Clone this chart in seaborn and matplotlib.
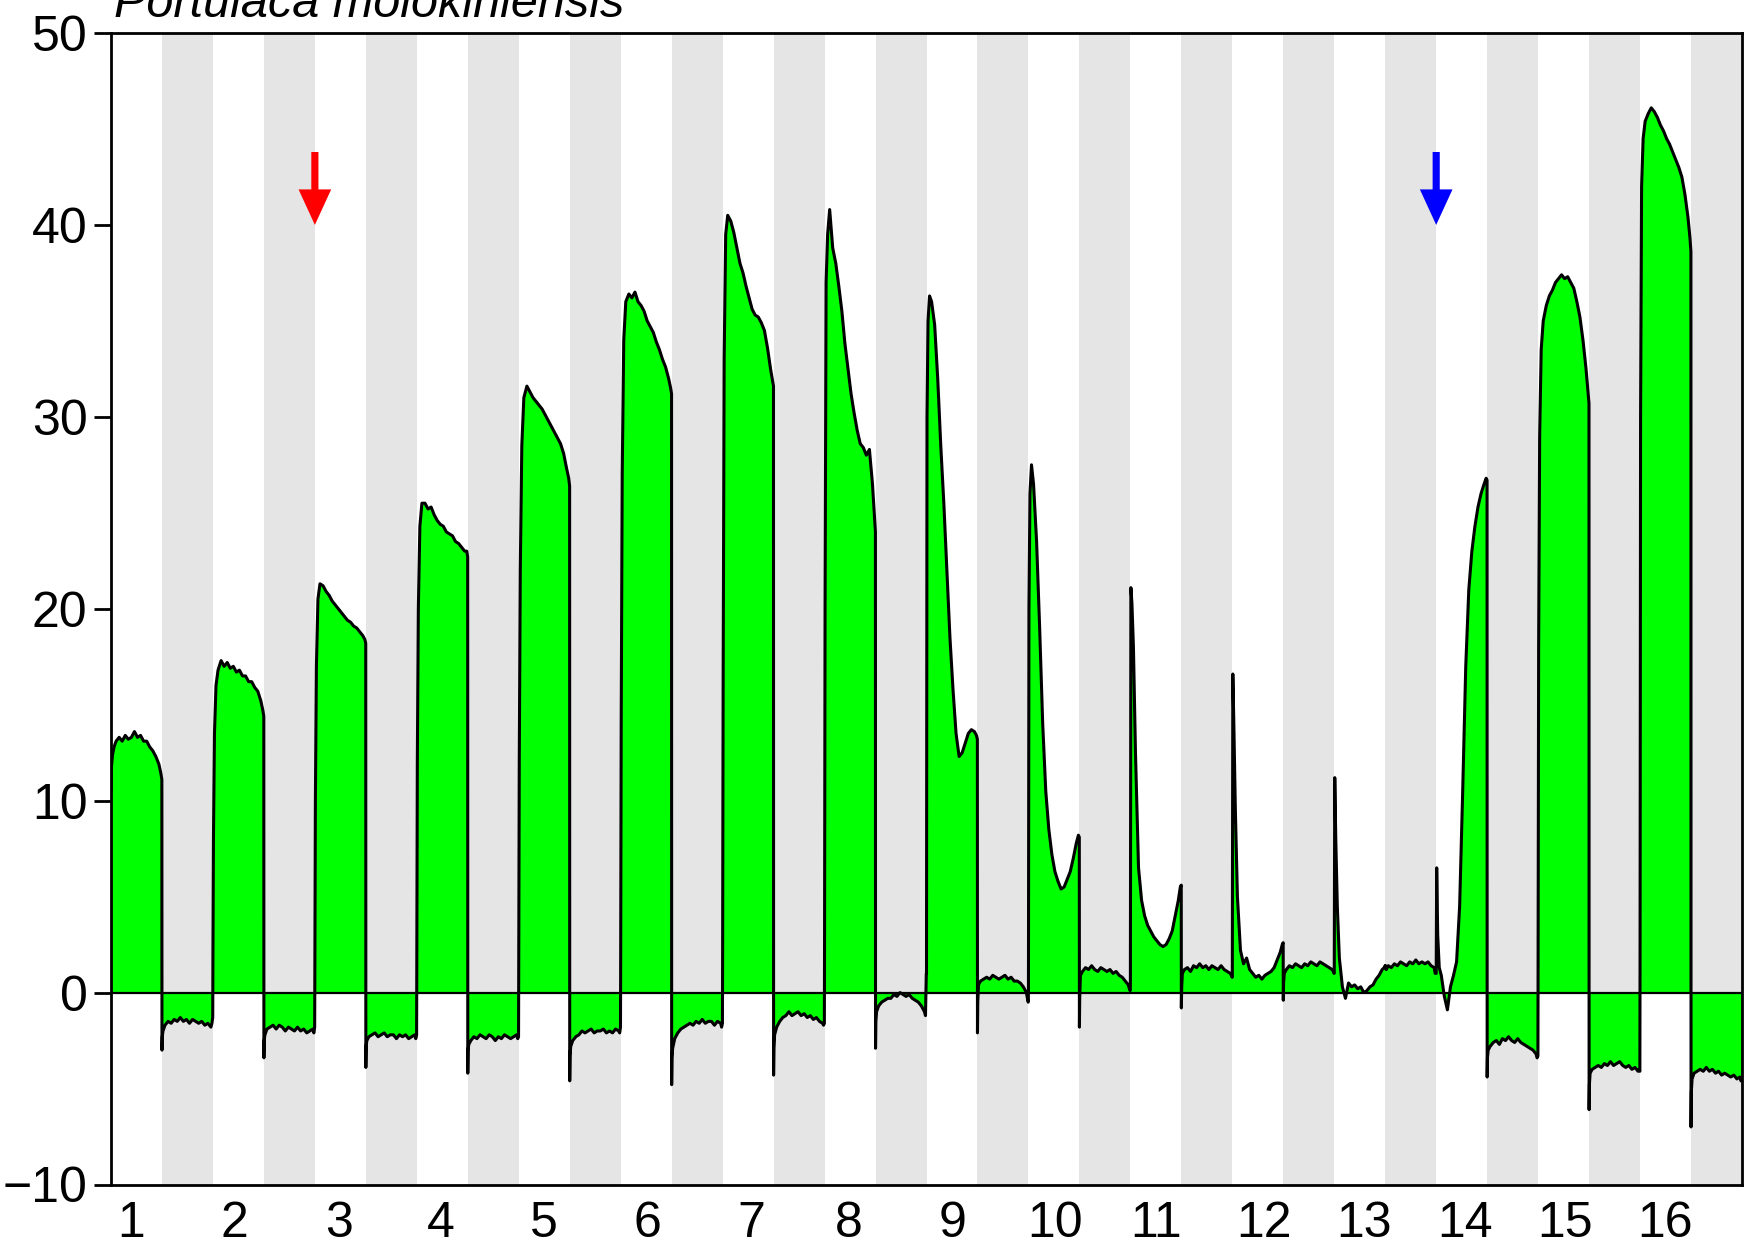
import matplotlib
matplotlib.use('Agg')
import matplotlib.pyplot as plt
import seaborn as sns
import pandas as pd
from matplotlib.patches import FancyArrow

# time inside one day (fraction of day): light 0-0.5, dark 0.5-1
t_light = [0, 0.005, 0.015, 0.03, 0.05, 0.08, 0.11, 0.14, 0.17, 0.20, 0.23,
           0.26, 0.29, 0.32, 0.35, 0.38, 0.41, 0.44, 0.47, 0.49, 0.499]
t_dark = [0.5, 0.503, 0.51, 0.53, 0.56, 0.59, 0.62, 0.65, 0.68, 0.71, 0.74,
          0.77, 0.80, 0.83, 0.86, 0.89, 0.92, 0.95, 0.98, 0.99, 0.998]

# CO2 uptake, light periods
light_1 = [10.5, 11.8, 12.4, 12.8, 13.1, 13.3, 13.1, 13.4, 13.2, 13.3, 13.6,
           13.3, 13.4, 13.1, 13.1, 12.8, 12.6, 12.3, 11.9, 11.4, 11.1]
light_2 = [2.0, 8.0, 13.5, 16.0, 16.8, 17.3, 17.0, 17.2, 16.9, 17.0, 16.7,
           16.8, 16.5, 16.5, 16.2, 16.2, 15.9, 15.7, 15.2, 14.7, 14.4]
light_3 = [2.0, 10.0, 17.0, 20.5, 21.3, 21.2, 20.9, 20.7, 20.4, 20.2, 20.0,
           19.8, 19.6, 19.4, 19.3, 19.1, 19.0, 18.8, 18.6, 18.4, 18.2]
light_4 = [2.0, 12.0, 20.0, 24.3, 25.5, 25.5, 25.2, 25.3, 24.9, 24.6, 24.4,
           24.3, 24.0, 23.9, 23.8, 23.5, 23.4, 23.2, 23.0, 23.0, 22.7]
light_5 = [2.0, 12.0, 22.0, 28.5, 31.0, 31.6, 31.3, 31.0, 30.8, 30.6, 30.4,
           30.1, 29.8, 29.5, 29.2, 28.9, 28.6, 28.1, 27.3, 26.8, 26.4]
light_6 = [2.0, 14.0, 27.0, 34.0, 36.0, 36.4, 36.2, 36.5, 36.0, 35.8, 35.5,
           35.0, 34.7, 34.4, 33.9, 33.5, 33.0, 32.6, 32.0, 31.5, 31.2]
light_7 = [2.0, 16.0, 33.0, 39.5, 40.5, 40.2, 39.6, 38.8, 38.0, 37.5, 36.8,
           36.2, 35.6, 35.3, 35.2, 34.9, 34.5, 33.6, 32.5, 31.9, 31.6]
light_8 = [3.0, 20.0, 37.0, 39.5, 40.8, 38.8, 38.0, 36.8, 35.5, 33.8, 32.5,
           31.2, 30.2, 29.3, 28.6, 28.4, 28.0, 28.3, 26.5, 24.8, 24.0]
light_9 = [1.0, 30.0, 35.0, 36.3, 36.0, 34.8, 32.0, 28.5, 25.5, 22.0, 18.5,
           15.8, 13.5, 12.3, 12.5, 13.0, 13.5, 13.7, 13.6, 13.4, 13.2]
light_10 = [0.0, 20.0, 26.0, 27.5, 26.5, 23.5, 19.0, 14.0, 10.5, 8.5, 7.2,
            6.3, 5.8, 5.4, 5.5, 5.9, 6.3, 7.0, 7.8, 8.2, 8.1]
light_11 = [0.3, 21.1, 20.3, 18.0, 12.5, 6.5, 4.8, 4.0, 3.5, 3.2, 2.9,
            2.7, 2.5, 2.4, 2.5, 2.8, 3.2, 4.0, 4.8, 5.5, 5.6]
light_12 = [0.8, 16.6, 14.0, 9.5, 5.0, 2.2, 1.5, 1.8, 1.2, 1.0, 0.8,
            0.9, 0.7, 0.9, 1.0, 1.1, 1.3, 1.7, 2.1, 2.5, 2.6]
light_13 = [1.0, 11.2, 8.0, 4.5, 1.8, 0.3, -0.3, 0.5, 0.3, 0.4, 0.2,
            0.3, 0.0, 0.1, 0.3, 0.4, 0.7, 0.9, 1.2, 1.3, 1.4]
light_14 = [1.0, 6.5, 3.0, 1.3, 0.9, -0.2, -0.9, 0.3, 0.9, 1.6, 4.5,
            10.5, 17.0, 21.0, 23.0, 24.3, 25.3, 26.0, 26.5, 26.8, 26.7]
light_15 = [2.0, 18.0, 29.0, 33.5, 35.0, 35.8, 36.3, 36.6, 37.0, 37.2, 37.4,
            37.2, 37.3, 37.0, 36.7, 36.0, 35.2, 34.0, 32.5, 31.3, 30.7]
light_16 = [2.0, 30.0, 42.0, 44.5, 45.4, 45.8, 46.1, 45.9, 45.6, 45.2, 44.9,
            44.5, 44.2, 43.8, 43.4, 43.0, 42.5, 41.6, 40.4, 39.3, 38.6]

# CO2 uptake, dark periods
dark_1 = [-3.0, -2.3, -2.0, -1.7, -1.5, -1.6, -1.4, -1.5, -1.3, -1.5, -1.4,
          -1.6, -1.4, -1.5, -1.6, -1.5, -1.7, -1.6, -1.8, -1.6, -1.3]
dark_2 = [-3.4, -2.5, -2.2, -1.9, -1.8, -1.7, -1.9, -1.7, -1.8, -2.0, -1.8,
          -1.9, -2.0, -1.8, -2.0, -1.9, -2.1, -2.0, -1.9, -2.1, -1.8]
dark_3 = [-3.9, -2.8, -2.5, -2.3, -2.2, -2.1, -2.3, -2.2, -2.1, -2.3, -2.2,
          -2.2, -2.4, -2.2, -2.3, -2.2, -2.4, -2.3, -2.2, -2.4, -2.2]
dark_4 = [-4.2, -3.0, -2.7, -2.5, -2.3, -2.4, -2.2, -2.3, -2.4, -2.2, -2.3,
          -2.5, -2.3, -2.4, -2.2, -2.3, -2.4, -2.3, -2.2, -2.4, -2.3]
dark_5 = [-4.6, -3.3, -2.8, -2.5, -2.3, -2.2, -2.0, -2.1, -2.0, -1.9, -2.1,
          -2.0, -2.0, -1.9, -2.1, -2.0, -2.1, -1.9, -2.0, -2.1, -1.8]
dark_6 = [-4.8, -3.4, -2.9, -2.4, -2.1, -1.9, -1.8, -1.7, -1.6, -1.7, -1.5,
          -1.6, -1.4, -1.6, -1.5, -1.5, -1.7, -1.5, -1.6, -1.8, -1.6]
dark_7 = [-4.3, -2.9, -2.2, -1.8, -1.5, -1.3, -1.2, -1.0, -1.2, -1.1, -1.0,
          -1.2, -1.1, -1.3, -1.2, -1.4, -1.3, -1.5, -1.6, -1.7, -1.6]
dark_8 = [-2.9, -1.5, -1.0, -0.7, -0.5, -0.4, -0.3, -0.3, -0.1, -0.2, 0.0,
          -0.1, -0.2, -0.1, -0.3, -0.4, -0.5, -0.7, -1.0, -1.2, 1.0]
dark_9 = [-2.1, -0.5, 0.4, 0.6, 0.7, 0.8, 0.7, 0.9, 0.8, 0.7, 0.8,
          0.9, 0.7, 0.8, 0.6, 0.6, 0.5, 0.3, 0.0, -0.3, -0.5]
dark_10 = [-1.8, -0.3, 0.9, 1.1, 1.3, 1.2, 1.4, 1.2, 1.1, 1.3, 1.2,
           1.1, 1.2, 1.0, 1.1, 0.9, 0.8, 0.6, 0.4, 0.2, 0.1]
dark_11 = [-0.8, 0.2, 1.0, 1.2, 1.3, 1.1, 1.4, 1.3, 1.5, 1.3, 1.4,
           1.2, 1.4, 1.3, 1.2, 1.4, 1.2, 1.1, 1.0, 0.9, 0.8]
dark_12 = [-0.4, 0.5, 1.0, 1.2, 1.4, 1.3, 1.5, 1.4, 1.3, 1.5, 1.4,
           1.6, 1.5, 1.4, 1.6, 1.5, 1.4, 1.3, 1.2, 1.1, 1.0]
dark_13 = [1.3, 1.4, 1.2, 1.4, 1.3, 1.5, 1.4, 1.6, 1.5, 1.4, 1.6,
           1.5, 1.7, 1.5, 1.6, 1.5, 1.6, 1.4, 1.3, 1.0, 1.0]
dark_14 = [-4.4, -3.4, -3.0, -2.8, -2.6, -2.5, -2.7, -2.4, -2.5, -2.3, -2.5,
           -2.6, -2.4, -2.6, -2.7, -2.8, -2.9, -3.0, -3.2, -3.4, -3.3]
dark_15 = [-6.1, -4.8, -4.2, -4.0, -3.9, -3.8, -3.9, -3.7, -3.8, -3.6, -3.8,
           -3.7, -3.6, -3.8, -3.9, -3.8, -4.0, -3.9, -4.1, -4.0, -4.1]
dark_16 = [-7.0, -5.2, -4.5, -4.2, -4.1, -4.0, -4.1, -3.9, -4.1, -4.0, -4.2,
           -4.1, -4.3, -4.2, -4.3, -4.4, -4.3, -4.5, -4.4, -4.6, -4.5]

day_labels = [str(i) for i in range(1, 17)]
label_pos = [0.2, 1.21, 2.24, 3.24, 4.25, 5.26, 6.28, 7.24, 8.26, 9.26,
             10.25, 11.31, 12.29, 13.28, 14.26, 15.25]
arrow_days = [2.0, 13.0]
arrow_colors = ['#ff0000', '#0000ff']

light_vals = [light_1, light_2, light_3, light_4, light_5, light_6, light_7, light_8,
              light_9, light_10, light_11, light_12, light_13, light_14, light_15, light_16]
dark_vals = [dark_1, dark_2, dark_3, dark_4, dark_5, dark_6, dark_7, dark_8,
             dark_9, dark_10, dark_11, dark_12, dark_13, dark_14, dark_15, dark_16]

time, flux = [], []
for d in range(16):
    time += [d + t for t in t_light] + [d + t for t in t_dark]
    flux += light_vals[d] + dark_vals[d]
df = pd.DataFrame({'day': time, 'co2': flux})

sns.set_style('white')
plt.rcParams['font.family'] = ['Liberation Sans', 'DejaVu Sans']
plt.rcParams['text.color'] = 'black'

fig = plt.figure(figsize=(17.44, 12.58), dpi=100)
ax = fig.add_axes([111 / 1744, 1 - 1184.5 / 1258, (1742 - 111) / 1744, (1184.5 - 33) / 1258])

# dark periods
for d in range(16):
    ax.axvspan(d + 0.5, d + 1.0, color='#e5e5e5', lw=0, zorder=0)

ax.fill_between(df['day'], df['co2'], 0, color='#00ff00', lw=0, zorder=1)
sns.lineplot(data=df, x='day', y='co2', estimator=None, sort=False,
             color='black', lw=2.2, ax=ax, zorder=3)
ax.axhline(0, color='black', lw=1.6, zorder=2)

for xd, c in zip(arrow_days, arrow_colors):
    ax.add_patch(FancyArrow(xd, 43.8, 0, -3.8, width=0.07, head_width=0.32,
                            head_length=1.85, length_includes_head=True,
                            color=c, lw=0, zorder=4))

ax.set_xlim(0, 16)
ax.set_ylim(-10, 50)
ax.set_yticks([-10, 0, 10, 20, 30, 40, 50])
ax.set_xticks(label_pos)
ax.set_xticklabels(day_labels)
ax.set_xlabel('')
ax.set_ylabel('')
ax.tick_params(axis='y', direction='out', length=12, width=2, pad=5, labelsize=36,
               left=True, color='black', labelcolor='black')
ax.tick_params(axis='x', length=0, pad=12, labelsize=36, labelcolor='black')
for s in ax.spines.values():
    s.set_linewidth(2)
    s.set_color('black')
    s.set_visible(True)

fig.text(114 / 1744, 1 - 17 / 1258, 'Portulaca molokiniensis', style='italic',
         fontsize=35, ha='left', va='baseline', color='black')

fig.savefig('out.png', dpi=100)
